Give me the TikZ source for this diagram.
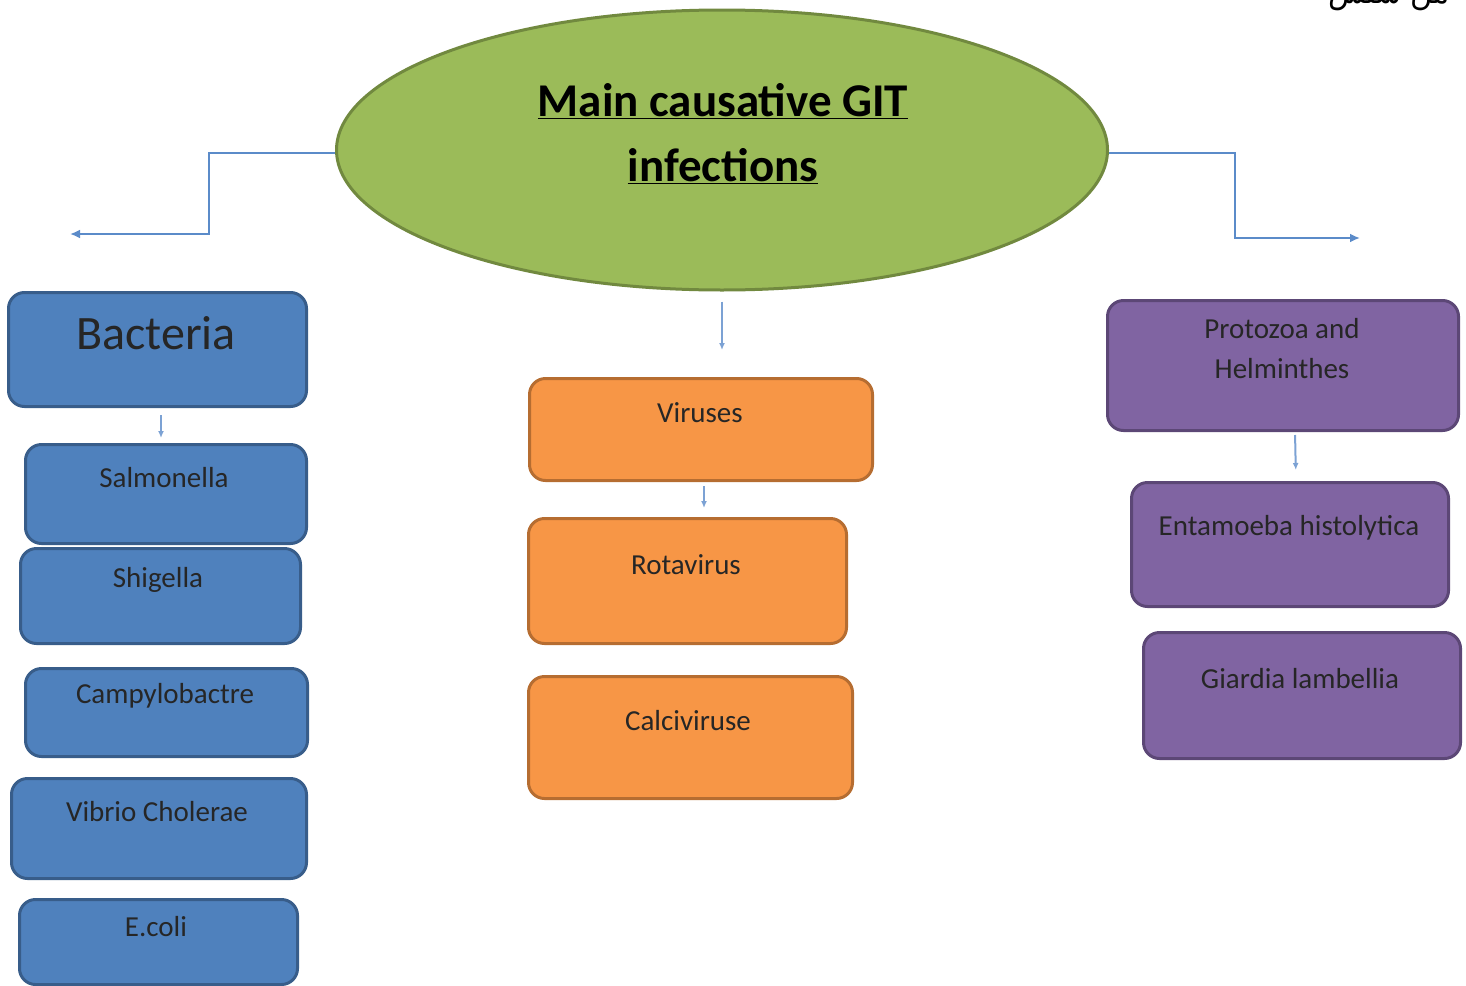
\documentclass[tikz,border=0pt]{standalone}
\usepackage{fontspec}
\setmainfont{Carlito}
\newfontfamily\arabicfont[Script=Arabic]{DejaVu Sans}
\TeXXeTstate=1
\usetikzlibrary{shapes.geometric,arrows.meta}
\definecolor{gfill}{HTML}{9BBB59}
\definecolor{gline}{HTML}{71893F}
\definecolor{bfill}{HTML}{4F81BD}
\definecolor{bline}{HTML}{385D8A}
\definecolor{ofill}{HTML}{F79646}
\definecolor{oline}{HTML}{B66D31}
\definecolor{pfill}{HTML}{8064A2}
\definecolor{pline}{HTML}{5C4776}
\definecolor{conn}{HTML}{5B8BC9}
\tikzset{
  boxbase/.style={rectangle, rounded corners=16pt, line width=3pt, inner sep=0pt, anchor=north west},
  bluebox/.style={boxbase, fill=bfill, draw=bline},
  orangebox/.style={boxbase, fill=ofill, draw=oline},
  purplebox/.style={boxbase, fill=pfill, draw=pline},
  lbl/.style={inner sep=0pt, align=center, font=\fontsize{29}{40}\selectfont, text=black!85},
  conline/.style={draw=conn, line width=2pt},
  arr/.style={conline, -{Latex[length=10pt,width=9pt]}},
  smallarr/.style={draw=conn!80, line width=2pt, -{Latex[length=7pt,width=6pt]}}
}
\begin{document}
\begin{tikzpicture}[x=1pt,y=-1pt]
\useasboundingbox (0,0) rectangle (1466,985);
% Arabic text cut at top
\node[inner sep=0pt, anchor=base east, font=\fontsize{30}{30}\selectfont] (ar) at (1450,4) {\arabicfont\beginR من سلس\endR};
% ellipse
\node[ellipse, fill=gfill, draw=gline, line width=3pt, minimum width=771pt, minimum height=280pt, inner sep=0pt] (ell) at (722,150) {};
\node[inner sep=0pt, align=center, font=\fontsize{47}{65}\selectfont\bfseries] (title) at (723,134) {\underline{Main causative GIT}\\\underline{infections}};
% bacteria column
\node[bluebox, minimum width=298pt, minimum height=114pt] (bact) at (7,291) {};
\node[lbl, font=\fontsize{48}{50}\selectfont] (bactT) at (156,333) {Bacteria};
\node[bluebox, minimum width=281pt, minimum height=99pt] (salm) at (24,443) {};
\node[lbl] (salmT) at (164,478) {Salmonella};
\node[bluebox, minimum width=280pt, minimum height=95pt] (shig) at (19,547) {};
\node[lbl] (shigT) at (158,580) {Shigella};
\node[bluebox, minimum width=282pt, minimum height=88pt] (camp) at (24,667) {};
\node[lbl] (campT) at (165,696) {Campylobactre};
\node[bluebox, minimum width=295pt, minimum height=100pt] (vib) at (10,777) {};
\node[lbl] (vibT) at (157,812) {Vibrio Cholerae};
\node[bluebox, minimum width=278pt, minimum height=85pt] (ecoli) at (18,898) {};
\node[lbl] (ecoliT) at (156,927) {E.coli};
% viruses column
\node[orangebox, minimum width=343pt, minimum height=102pt] (vir) at (528,377) {};
\node[lbl] (virT) at (700,413) {Viruses};
\node[orangebox, minimum width=318pt, minimum height=125pt] (rota) at (527,517) {};
\node[lbl] (rotaT) at (686,565) {Rotavirus};
\node[orangebox, minimum width=324pt, minimum height=122pt] (calc) at (527,675) {};
\node[lbl] (calcT) at (688,721) {Calciviruse};
% protozoa column
\node[purplebox, minimum width=351pt, minimum height=130pt] (prot) at (1106,299) {};
\node[lbl] (protT) at (1282,349) {Protozoa and\\Helminthes};
\node[purplebox, minimum width=317pt, minimum height=124pt] (ent) at (1130,481) {};
\node[lbl] (entT) at (1289,528) {Entamoeba histolytica};
\node[purplebox, minimum width=317pt, minimum height=126pt] (giar) at (1142,631) {};
\node[lbl] (giarT) at (1300,679) {Giardia lambellia};
% connectors
\coordinate (lend) at (70,234);
\coordinate (rend) at (1360,238);
\draw[arr] (ell.west |- 0,153) -- (209,153) -- (209,234) -- (lend);
\draw[arr] (ell.east |- 0,153) -- (1235,153) -- (1235,238) -- (rend);
\draw[smallarr, shorten <=10pt, shorten >=27pt] (ell.south) -- (vir.north -| ell.south);
\draw[smallarr, shorten <=7pt, shorten >=5pt] (bact.south -| 161,0) -- (salm.north -| 161,0);
\draw[smallarr, shorten <=4pt, shorten >=9pt] (vir.south -| 704,0) -- (rota.north -| 704,0);
\draw[smallarr, shorten <=3pt, shorten >=11pt] (prot.south -| 1295,0) -- (ent.north -| 1296,0);
\end{tikzpicture}
\end{document}
